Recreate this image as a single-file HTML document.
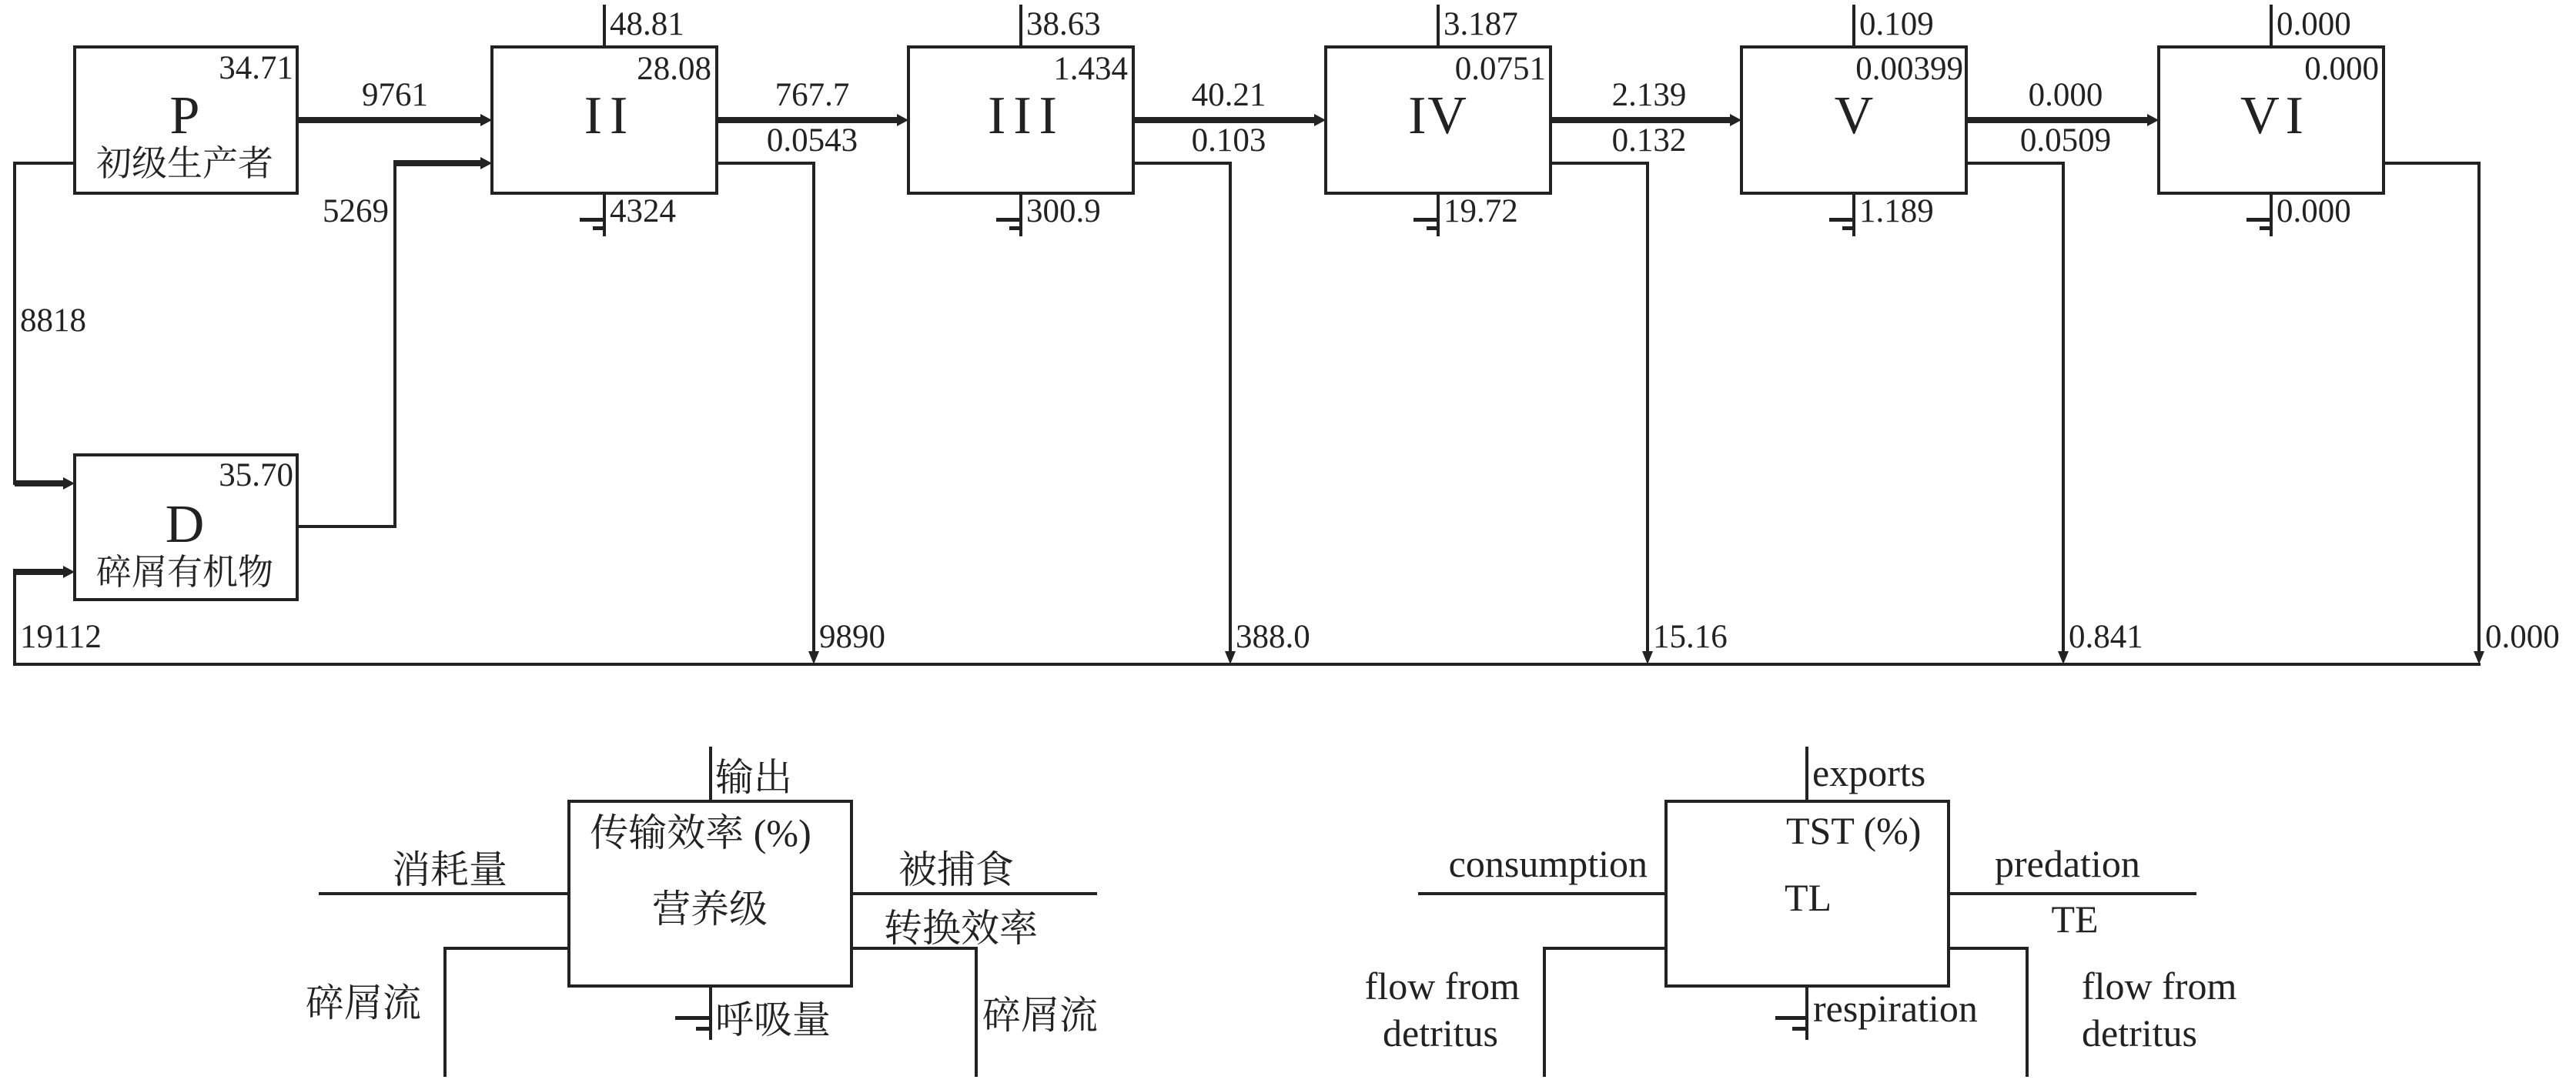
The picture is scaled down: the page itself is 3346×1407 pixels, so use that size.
<!DOCTYPE html>
<html><head><meta charset="utf-8"><style>
html,body{margin:0;padding:0;background:#fff;}
svg{display:block}
text{font-family:"Liberation Serif","Noto Serif CJK SC","Noto Sans CJK SC",serif;fill:#222}
.n{font-size:43px}
.c{font-size:46px}
.r{font-size:70px}
.l{font-size:50px}
</style></head><body>
<svg width="3346" height="1407" viewBox="0 0 3346 1407" xmlns="http://www.w3.org/2000/svg">
<g stroke="#222" fill="none" stroke-width="4">
<rect x="97" y="61" width="289" height="190"/>
<rect x="97" y="591" width="289" height="188"/>
<rect x="639" y="61" width="292" height="190"/>
<rect x="1180" y="61" width="292" height="190"/>
<rect x="1722" y="61" width="292" height="190"/>
<rect x="2262" y="61" width="292" height="190"/>
<rect x="2804" y="61" width="292" height="190"/>
<polyline points="97,212 19,212 19,628 40,628"/>
<line x1="19" y1="628" x2="86" y2="628" stroke-width="8"/>
<polyline points="19,863 19,743"/>
<line x1="17" y1="743" x2="86" y2="743" stroke-width="8"/>
<polyline points="386,684 513,684 513,212"/>
<line x1="511" y1="212" x2="628" y2="212" stroke-width="8"/>
<line x1="386" y1="156" x2="628" y2="156" stroke-width="8"/>
<line x1="931" y1="156" x2="1169" y2="156" stroke-width="8"/>
<line x1="1472" y1="156" x2="1711" y2="156" stroke-width="8"/>
<line x1="2014" y1="156" x2="2251" y2="156" stroke-width="8"/>
<line x1="2554" y1="156" x2="2793" y2="156" stroke-width="8"/>
<polyline points="931,212 1057,212 1057,850"/>
<polyline points="1472,212 1598,212 1598,850"/>
<polyline points="2014,212 2140,212 2140,850"/>
<polyline points="2554,212 2680,212 2680,850"/>
<polyline points="3096,212 3220,212 3220,850"/>
<line x1="17" y1="863" x2="3222" y2="863"/>
<line x1="785" y1="6" x2="785" y2="61"/><line x1="785" y1="251" x2="785" y2="307"/>
<line x1="1326" y1="6" x2="1326" y2="61"/><line x1="1326" y1="251" x2="1326" y2="307"/>
<line x1="1868" y1="6" x2="1868" y2="61"/><line x1="1868" y1="251" x2="1868" y2="307"/>
<line x1="2408" y1="6" x2="2408" y2="61"/><line x1="2408" y1="251" x2="2408" y2="307"/>
<line x1="2950" y1="6" x2="2950" y2="61"/><line x1="2950" y1="251" x2="2950" y2="307"/>
</g>
<g fill="#222">
<rect x="753" y="283" width="32" height="5"/><rect x="770" y="294" width="15" height="5"/>
<rect x="1294" y="283" width="32" height="5"/><rect x="1311" y="294" width="15" height="5"/>
<rect x="1836" y="283" width="32" height="5"/><rect x="1853" y="294" width="15" height="5"/>
<rect x="2376" y="283" width="32" height="5"/><rect x="2393" y="294" width="15" height="5"/>
<rect x="2918" y="283" width="32" height="5"/><rect x="2935" y="294" width="15" height="5"/>
<polygon points="639,156 624,148 624,164"/>
<polygon points="639,212 624,204 624,220"/>
<polygon points="1180,156 1165,148 1165,164"/>
<polygon points="1722,156 1707,148 1707,164"/>
<polygon points="2262,156 2247,148 2247,164"/>
<polygon points="2804,156 2789,148 2789,164"/>
<polygon points="97,628 82,620 82,636"/>
<polygon points="97,743 82,735 82,751"/>
<polygon points="1057,863 1050,846 1064,846"/>
<polygon points="1598,863 1591,846 1605,846"/>
<polygon points="2140,863 2133,846 2147,846"/>
<polygon points="2680,863 2673,846 2687,846"/>
<polygon points="3220,863 3213,846 3227,846"/>
</g>
<text class="n" x="381" y="102" text-anchor="end">34.71</text>
<text class="r" x="240" y="173" text-anchor="middle">P</text>
<text class="c" x="240" y="228" text-anchor="middle">初级生产者</text>
<text class="n" x="381" y="631" text-anchor="end">35.70</text>
<text class="r" x="240" y="704" text-anchor="middle">D</text>
<text class="c" x="240" y="759" text-anchor="middle">碎屑有机物</text>
<text class="n" x="513" y="137" text-anchor="middle">9761</text>
<text class="n" x="505" y="288" text-anchor="end">5269</text>
<text class="n" x="26" y="430">8818</text>
<text class="n" x="26" y="841">19112</text>
<text class="n" x="792" y="45">48.81</text>
<text class="n" x="924" y="103" text-anchor="end">28.08</text>
<text class="r" x="792" y="173" text-anchor="middle" letter-spacing="10">II</text>
<text class="n" x="792" y="288">4324</text>
<text class="n" x="1055" y="137" text-anchor="middle">767.7</text>
<text class="n" x="1055" y="196" text-anchor="middle">0.0543</text>
<text class="n" x="1064" y="841">9890</text>
<text class="n" x="1333" y="45">38.63</text>
<text class="n" x="1465" y="103" text-anchor="end">1.434</text>
<text class="r" x="1333" y="173" text-anchor="middle" letter-spacing="10">III</text>
<text class="n" x="1333" y="288">300.9</text>
<text class="n" x="1596" y="137" text-anchor="middle">40.21</text>
<text class="n" x="1596" y="196" text-anchor="middle">0.103</text>
<text class="n" x="1605" y="841">388.0</text>
<text class="n" x="1875" y="45">3.187</text>
<text class="n" x="2008" y="103" text-anchor="end">0.0751</text>
<text class="r" x="1868" y="173" text-anchor="middle" letter-spacing="2">IV</text>
<text class="n" x="1875" y="288">19.72</text>
<text class="n" x="2142" y="137" text-anchor="middle">2.139</text>
<text class="n" x="2142" y="196" text-anchor="middle">0.132</text>
<text class="n" x="2147" y="841">15.16</text>
<text class="n" x="2415" y="45">0.109</text>
<text class="n" x="2550" y="103" text-anchor="end">0.00399</text>
<text class="r" x="2408" y="173" text-anchor="middle">V</text>
<text class="n" x="2415" y="288">1.189</text>
<text class="n" x="2683" y="137" text-anchor="middle">0.000</text>
<text class="n" x="2683" y="196" text-anchor="middle">0.0509</text>
<text class="n" x="2687" y="841">0.841</text>
<text class="n" x="2957" y="45">0.000</text>
<text class="n" x="3090" y="103" text-anchor="end">0.000</text>
<text class="r" x="2955" y="173" text-anchor="middle" letter-spacing="8">VI</text>
<text class="n" x="2957" y="288">0.000</text>
<text class="n" x="3228" y="841">0.000</text>

<g stroke="#222" fill="none" stroke-width="4">
<rect x="739" y="1041" width="367" height="240"/>
<line x1="923" y1="970" x2="923" y2="1041"/>
<line x1="923" y1="1281" x2="923" y2="1351"/>
<line x1="414" y1="1161" x2="739" y2="1161"/>
<line x1="1106" y1="1161" x2="1425" y2="1161"/>
<polyline points="739,1232 578,1232 578,1399"/>
<polyline points="1106,1232 1268,1232 1268,1399"/>
<rect x="2164" y="1041" width="367" height="240"/>
<line x1="2347" y1="970" x2="2347" y2="1041"/>
<line x1="2347" y1="1281" x2="2347" y2="1351"/>
<line x1="1842" y1="1161" x2="2164" y2="1161"/>
<line x1="2531" y1="1161" x2="2853" y2="1161"/>
<polyline points="2164,1232 2006,1232 2006,1399"/>
<polyline points="2531,1232 2633,1232 2633,1399"/>
</g>
<g fill="#222">
<rect x="877" y="1320" width="46" height="5"/><rect x="904" y="1334" width="19" height="5"/>
<rect x="2306" y="1320" width="41" height="5"/><rect x="2328" y="1334" width="19" height="5"/>
</g>
<text class="l" x="929" y="1027">输出</text>
<text class="l" x="910" y="1099" text-anchor="middle">传输效率 (%)</text>
<text class="l" x="922" y="1198" text-anchor="middle">营养级</text>
<text class="l" x="659" y="1147" text-anchor="end">消耗量</text>
<text class="l" x="1167" y="1147">被捕食</text>
<text class="l" x="1148" y="1223">转换效率</text>
<text class="l" x="397" y="1320">碎屑流</text>
<text class="l" x="1276" y="1336">碎屑流</text>
<text class="l" x="929" y="1342">呼吸量</text>

<text class="l" x="2354" y="1021">exports</text>
<text class="l" x="2320" y="1096">TST (%)</text>
<text class="l" x="2140" y="1139" text-anchor="end">consumption</text>
<text class="l" x="2591" y="1139">predation</text>
<text class="l" x="2318" y="1183">TL</text>
<text class="l" x="2695" y="1211" text-anchor="middle">TE</text>
<text class="l" x="1974" y="1298" text-anchor="end">flow from</text>
<text class="l" x="1946" y="1359" text-anchor="end">detritus</text>
<text class="l" x="2355" y="1327">respiration</text>
<text class="l" x="2704" y="1298">flow from</text>
<text class="l" x="2704" y="1359">detritus</text>
</svg>
</body></html>
